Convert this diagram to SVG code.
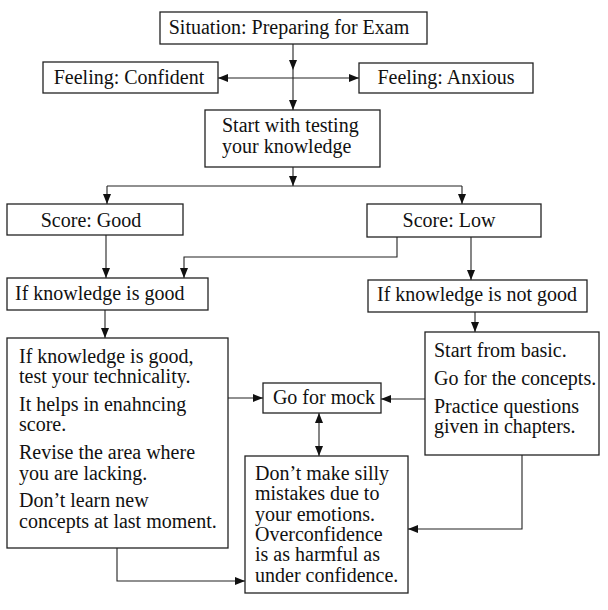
<svg xmlns="http://www.w3.org/2000/svg" width="608" height="610" viewBox="0 0 608 610">
<style>
.box{fill:#fff;stroke:#222;stroke-width:1.3}
.t{font-family:"Liberation Serif","Times New Roman",serif;font-size:20px;fill:#111}
.m{text-anchor:middle}
.c{fill:none;stroke:#222;stroke-width:1.1}
</style>
<defs>
<marker id="ah" markerUnits="userSpaceOnUse" markerWidth="10" markerHeight="8" refX="10" refY="4" orient="auto-start-reverse">
<path d="M0,0 L10,4 L0,8 z" fill="#111"/>
</marker>
</defs>
<rect width="608" height="610" fill="#fff"/>
<g id="connectors">
<line class="c" x1="293" y1="44" x2="293" y2="70" marker-end="url(#ah)"/>
<line class="c" x1="293" y1="70" x2="293" y2="110" marker-end="url(#ah)"/>
<line class="c" x1="293" y1="78" x2="218" y2="78" marker-end="url(#ah)"/>
<line class="c" x1="293" y1="78" x2="359" y2="78" marker-end="url(#ah)"/>
<line class="c" x1="293" y1="167" x2="293" y2="186" marker-end="url(#ah)"/>
<line class="c" x1="107" y1="186" x2="462" y2="186"/>
<line class="c" x1="107" y1="186" x2="107" y2="204" marker-end="url(#ah)"/>
<line class="c" x1="462" y1="186" x2="462" y2="204" marker-end="url(#ah)"/>
<line class="c" x1="106" y1="235" x2="106" y2="278" marker-end="url(#ah)"/>
<polyline class="c" points="397,237 397,257 184,257 184,278" marker-end="url(#ah)"/>
<line class="c" x1="471" y1="237" x2="471" y2="280" marker-end="url(#ah)"/>
<line class="c" x1="105" y1="310" x2="105" y2="338" marker-end="url(#ah)"/>
<line class="c" x1="475" y1="312" x2="475" y2="332" marker-end="url(#ah)"/>
<line class="c" x1="228" y1="398" x2="263" y2="398" marker-end="url(#ah)"/>
<line class="c" x1="425" y1="399" x2="381" y2="399" marker-end="url(#ah)"/>
<line class="c" x1="319" y1="413" x2="319" y2="456" marker-start="url(#ah)" marker-end="url(#ah)"/>
<polyline class="c" points="522,455 522,529 408,529" marker-end="url(#ah)"/>
<polyline class="c" points="117,548 117,581 245,581" marker-end="url(#ah)"/>
</g>
<g id="situation">
<rect class="box" x="160" y="12" width="267" height="32"/>
<text class="t m" x="289" y="34">Situation: Preparing for Exam</text>
</g>
<g id="confident">
<rect class="box" x="43" y="62" width="175" height="31"/>
<text class="t m" x="129" y="84">Feeling: Confident</text>
</g>
<g id="anxious">
<rect class="box" x="359" y="63" width="174" height="30"/>
<text class="t m" x="446" y="84">Feeling: Anxious</text>
</g>
<g id="start">
<rect class="box" x="205" y="110" width="175" height="57"/>
<text class="t" x="222" y="132">Start with testing</text>
<text class="t" x="222" y="153">your knowledge</text>
</g>
<g id="score-good">
<rect class="box" x="7" y="204" width="176" height="31"/>
<text class="t m" x="91" y="227">Score: Good</text>
</g>
<g id="score-low">
<rect class="box" x="367" y="204" width="174" height="33"/>
<text class="t m" x="449" y="227">Score: Low</text>
</g>
<g id="if-good">
<rect class="box" x="7" y="278" width="201" height="32"/>
<text class="t" x="15" y="300">If knowledge is good</text>
</g>
<g id="if-not-good">
<rect class="box" x="368" y="280" width="219" height="32"/>
<text class="t" x="377" y="301">If knowledge is not good</text>
</g>
<g id="good-advice">
<rect class="box" x="7" y="338" width="221" height="210"/>
<text class="t" x="19" y="363">If knowledge is good,</text>
<text class="t" x="19" y="383">test your technicality.</text>
<text class="t" x="19" y="411">It helps in enahncing</text>
<text class="t" x="19" y="431">score.</text>
<text class="t" x="19" y="459">Revise the area where</text>
<text class="t" x="19" y="480">you are lacking.</text>
<text class="t" x="19" y="507">Don’t learn new</text>
<text class="t" x="19" y="528">concepts at last moment.</text>
</g>
<g id="mock">
<rect class="box" x="263" y="383" width="118" height="30"/>
<text class="t m" x="324" y="404">Go for mock</text>
</g>
<g id="low-advice">
<rect class="box" x="425" y="332" width="174" height="123"/>
<text class="t" x="434" y="357">Start from basic.</text>
<text class="t" x="434" y="385">Go for the concepts.</text>
<text class="t" x="434" y="413">Practice questions</text>
<text class="t" x="434" y="433">given in chapters.</text>
</g>
<g id="emotions">
<rect class="box" x="245" y="456" width="163" height="137"/>
<text class="t" x="255" y="480">Don’t make silly</text>
<text class="t" x="255" y="500">mistakes due to</text>
<text class="t" x="255" y="521">your emotions.</text>
<text class="t" x="255" y="541">Overconfidence</text>
<text class="t" x="255" y="561">is as harmful as</text>
<text class="t" x="255" y="582">under confidence.</text>
</g>
</svg>
